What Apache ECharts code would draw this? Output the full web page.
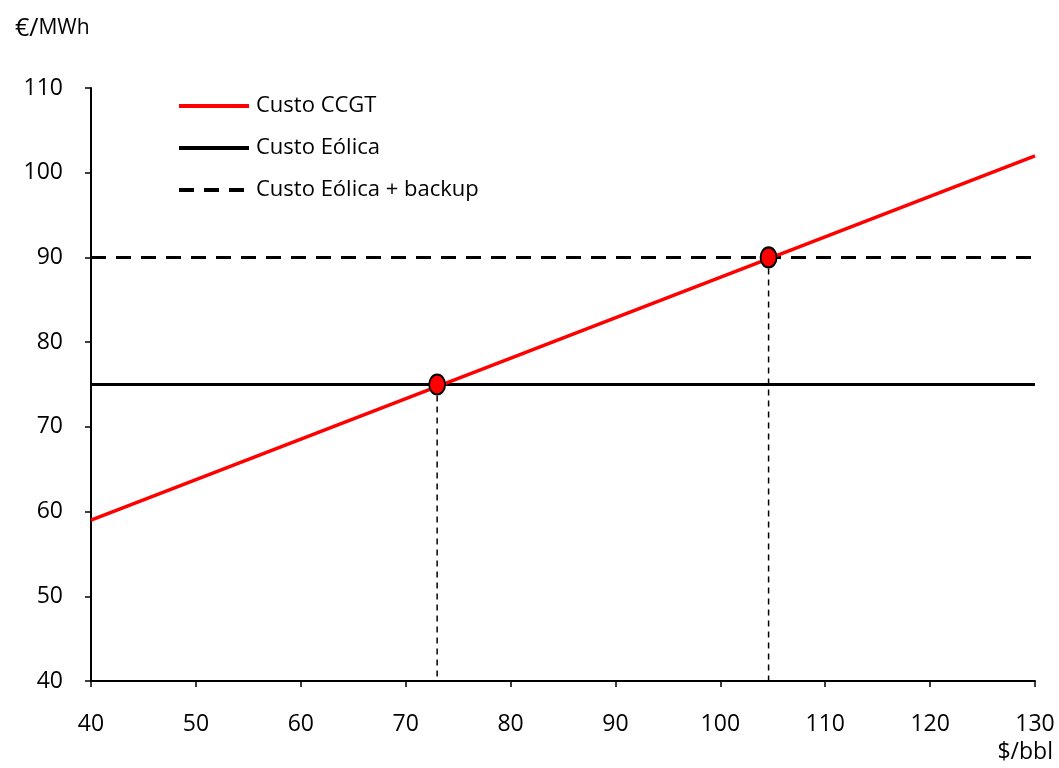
<!DOCTYPE html>
<html>
<head>
<meta charset="utf-8">
<script src="https://cdn.jsdelivr.net/npm/echarts@6/dist/echarts.min.js"></script>
<style>
  html, body { margin: 0; padding: 0; background: #fff; }
  #chart { width: 1059px; height: 768px; }
</style>
</head>
<body>
<div id="chart"></div>
<script>
// Oil price ($/bbl) and electricity generation cost (€/MWh)
const oilPrices = [40, 130];
const ccgtCost = [59, 102];
const windCost = [75, 75];
const windBackupCost = [90, 90];
// Break-even oil prices where CCGT meets each wind cost
const breakEvenOil = [73, 104.6];
const breakEvenCost = [75, 90];
const seriesNames = ['Custo CCGT', 'Custo Eólica', 'Custo Eólica + backup'];
const yMin = 40, yMax = 110, xMin = 40, xMax = 130;

const font = '"Open Sans", "Liberation Sans", sans-serif';

const pairs = (xs, ys) => xs.map((x, i) => [x, ys[i]]);

const chart = echarts.init(document.getElementById('chart'));
chart.setOption({
  animation: false,
  textStyle: { fontFamily: font },
  grid: { left: 91, right: 24, top: 88, bottom: 87 },
  legend: {
    orient: 'vertical',
    left: 172,
    top: 90,
    itemWidth: 70,
    itemHeight: 22,
    itemGap: 20,
    textStyle: { fontSize: 22, color: '#000', fontFamily: font, padding: [0, 0, 0, 2] },
    itemStyle: { opacity: 0 },
    lineStyle: { width: 4 },
    data: seriesNames
  },
  graphic: [
    {
      type: 'text', left: 15, top: 16,
      style: {
        text: '{a|€/}{b|MWh}',
        rich: {
          a: { fontSize: 25, fontFamily: font, fill: '#000' },
          b: { fontSize: 21, fontFamily: font, fill: '#000' }
        }
      }
    },
    {
      type: 'text', right: 6, top: 741,
      style: { text: '$/bbl', fontSize: 23, fontFamily: font, fill: '#000' }
    }
  ],
  xAxis: {
    type: 'value', min: xMin, max: xMax, interval: 10,
    axisLine: { lineStyle: { color: '#000', width: 2 } },
    axisTick: { show: true, length: 6, lineStyle: { color: '#000', width: 1.5 } },
    axisLabel: { fontSize: 23, color: '#000', margin: 32, fontFamily: font },
    splitLine: { show: false }
  },
  yAxis: {
    type: 'value', min: yMin, max: yMax, interval: 10,
    axisLine: { show: true, lineStyle: { color: '#000', width: 2 } },
    axisTick: { show: true, length: 6, lineStyle: { color: '#000', width: 1.5 } },
    axisLabel: { fontSize: 23, color: '#000', margin: 28, fontFamily: font },
    splitLine: { show: false }
  },
  series: [
    {
      name: seriesNames[0], type: 'line', symbol: 'none', z: 4,
      data: pairs(oilPrices, ccgtCost),
      lineStyle: { color: '#ff0000', width: 3.5 },
      itemStyle: { color: '#ff0000' }
    },
    {
      name: seriesNames[1], type: 'line', symbol: 'none', z: 3,
      data: pairs(oilPrices, windCost),
      lineStyle: { color: '#000', width: 3 },
      itemStyle: { color: '#000' }
    },
    {
      name: seriesNames[2], type: 'line', symbol: 'none', z: 3,
      data: pairs(oilPrices, windBackupCost),
      lineStyle: { color: '#000', width: 3, type: [15, 10] },
      itemStyle: { color: '#000' }
    },
    // Thin drop lines from each break-even point to the x-axis
    ...breakEvenOil.map((x, i) => ({
      type: 'line', symbol: 'none', z: 2, silent: true,
      data: [[x, breakEvenCost[i]], [x, yMin]],
      lineStyle: { color: '#000', width: 1.5, type: [6, 5] }
    })),
    {
      type: 'scatter', z: 6, silent: true,
      symbol: 'circle', symbolSize: [16, 20],
      data: pairs(breakEvenOil, breakEvenCost),
      itemStyle: { color: '#ff0000', borderColor: '#000', borderWidth: 2, opacity: 1 }
    }
  ]
});
</script>
</body>
</html>
